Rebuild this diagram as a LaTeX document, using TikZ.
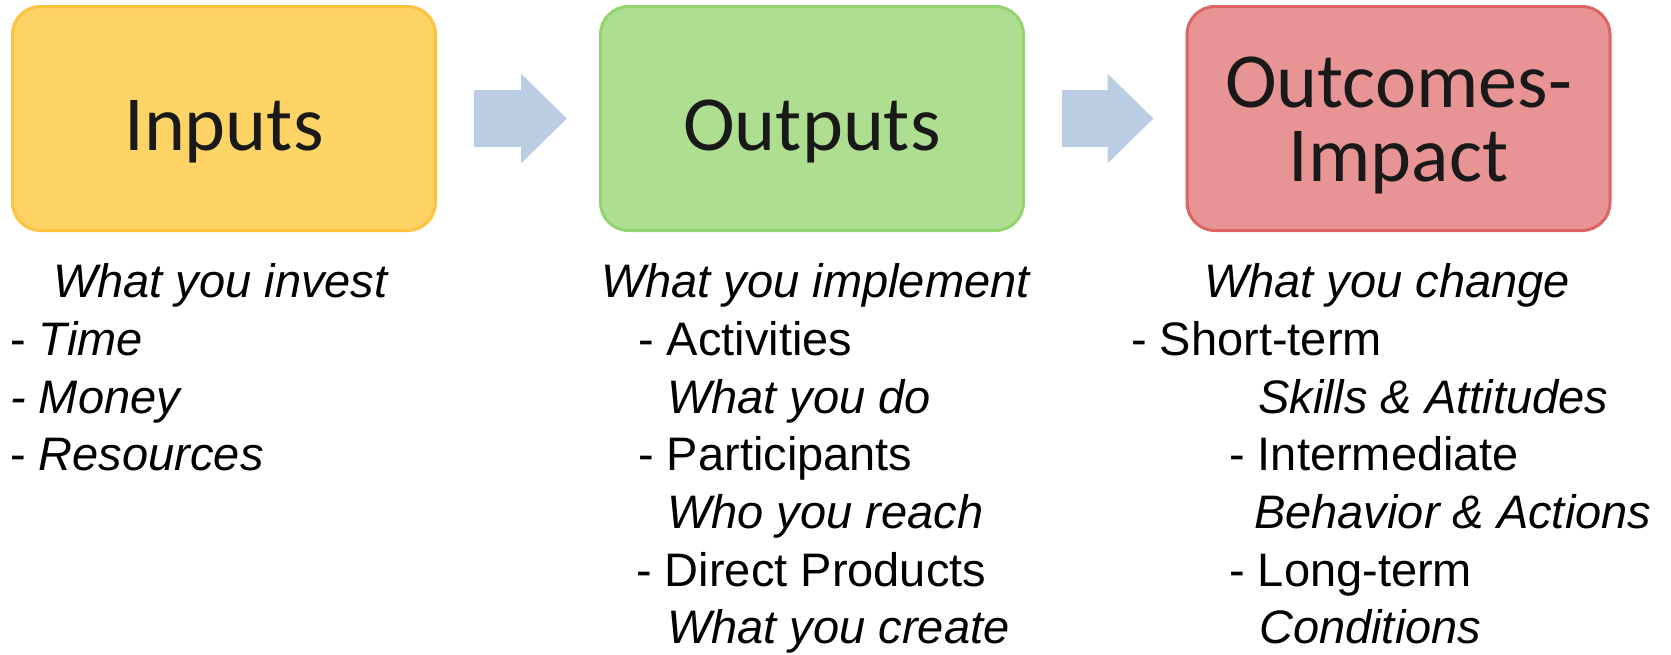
\documentclass[tikz,border=0pt]{standalone}
\usepackage{fontspec}
\setmainfont{Liberation Sans}
\newfontfamily\titlefont{Carlito}
\usetikzlibrary{arrows.meta}

\definecolor{inputfill}{HTML}{FFD466}
\definecolor{inputline}{HTML}{FFC23D}
\definecolor{outputfill}{HTML}{AEDE8F}
\definecolor{outputline}{HTML}{93D46E}
\definecolor{outcomefill}{HTML}{E89494}
\definecolor{outcomeline}{HTML}{DE6464}
\definecolor{flowblue}{HTML}{BBCDE2}

\tikzstyle{stage}=[rectangle, rounded corners=28pt, line width=3pt, minimum width=423pt, minimum height=224pt, inner sep=0pt]
\tikzstyle{title}=[anchor=base, inner sep=0pt, align=center, font=\titlefont\fontsize{78}{74}\selectfont, text=black!90]
\tikzstyle{item}=[anchor=base west, inner sep=0pt, font=\fontsize{47}{57}\selectfont]
\tikzstyle{note}=[item, font=\fontsize{47}{57}\selectfont\itshape]
\tikzstyle{flow}=[draw=flowblue, line width=57pt, shorten <=37pt, shorten >=32pt, -{Triangle[length=46pt,width=87pt]}]

\begin{document}
\begin{tikzpicture}[x=1pt, y=-1pt]
            \useasboundingbox (0,0) rectangle (1671,654);
            % the three stages
            \node[stage, draw=inputline, fill=inputfill] at (224,118.5) (inputs) {};
            \node[stage, draw=outputline, fill=outputfill] at (812,118.5) (outputs) {};
            \node[stage, draw=outcomeline, fill=outcomefill] at (1398.5,118.5) (outcomes) {};
            \node[title] at (224,150) (inputsT) {Inputs};
            \node[title] at (812,150) (outputsT) {Outputs};
            \node[title] at (1398.5,181) (outcomesT) {Outcomes-\\Impact};
            \draw[flow] (inputs) -- (outputs);
            \draw[flow] (outputs) -- (outcomes);
            % inputs list
            \node[note] at (53,297) (invest) {What you invest};
            \node[item] at (10,355) (time) {- \textit{Time}};
            \node[note] at (10,413) (money) {- Money};
            \node[item] at (10,470) (resources) {- \textit{Resources}};
            % outputs list
            \node[note] at (601,297) (implement) {What you implement};
            \node[item] at (638,355) (activities) {- Activities};
            \node[note] at (667,413) (youdo) {What you do};
            \node[item] at (638,470) (participants) {- Participants};
            \node[note] at (667,528) (reach) {Who you reach};
            \node[item] at (636,586) (products) {- Direct Products};
            \node[note] at (667,643) (create) {What you create};
            % outcomes list
            \node[note] at (1204,297) (change) {What you change};
            \node[item] at (1131,355) (short) {- Short-term};
            \node[note] at (1258,413) (skills) {Skills \& Attitudes};
            \node[item] at (1229,470) (inter) {- Intermediate};
            \node[note] at (1254,528) (behavior) {Behavior \& Actions};
            \node[item] at (1229,586) (long) {- Long-term};
            \node[note] at (1259,643) (conditions) {Conditions};
        \end{tikzpicture}
\end{document}
